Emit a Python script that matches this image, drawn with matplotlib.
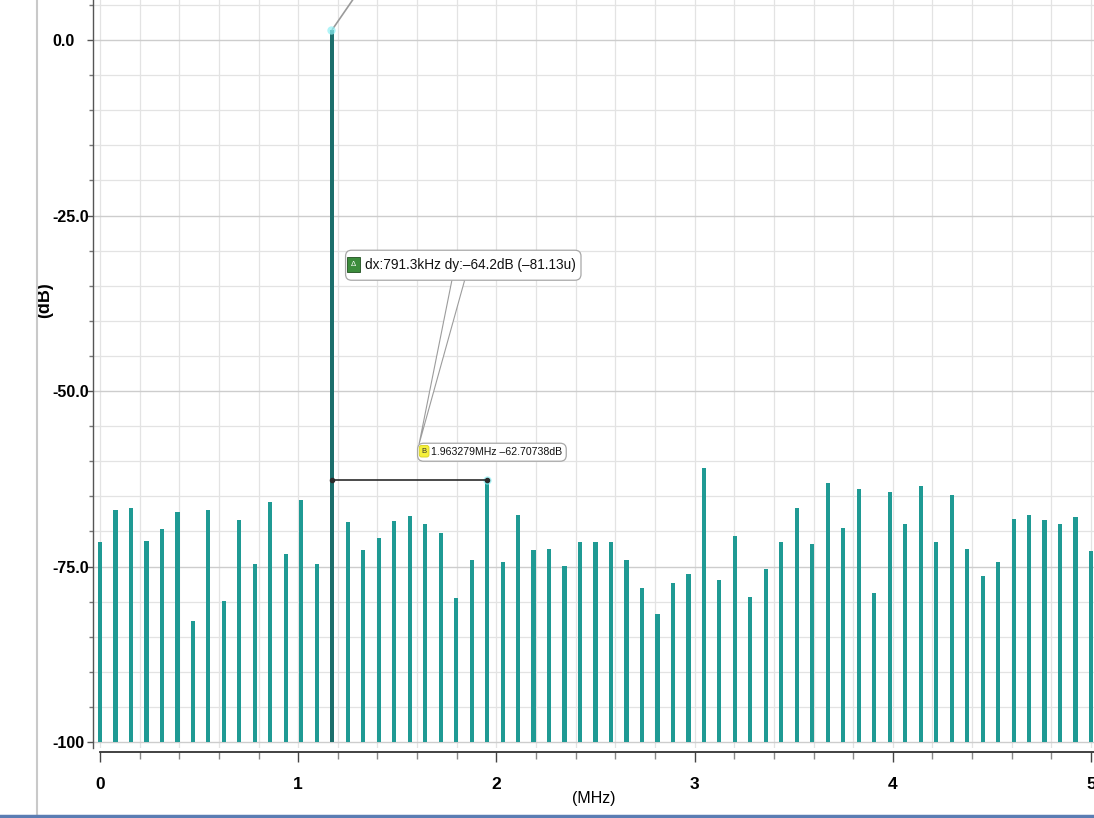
import numpy as np
import matplotlib
matplotlib.use("Agg")
import matplotlib.pyplot as plt
from matplotlib.ticker import MultipleLocator
from matplotlib.lines import Line2D
from matplotlib.patches import FancyBboxPatch
from matplotlib.transforms import Bbox, IdentityTransform

# spectrum levels per FFT bin (dB), 0..5 MHz
bin_step_mhz = 0.078125
levels_db = [
    -71.5, -67.0, -66.7, -71.4, -69.7, -67.3, -82.8, -66.9, -79.9, -68.4,
    -74.6, -65.8, -73.2, -65.5, -74.6, 1.49, -68.7, -72.6, -71.0, -68.5,
    -67.8, -68.9, -70.2, -79.5, -74.0, -62.71, -74.3, -67.7, -72.6, -72.5,
    -74.9, -71.5, -71.5, -71.5, -74.0, -78.1, -81.7, -77.3, -76.0, -61.0,
    -76.9, -70.6, -79.3, -75.3, -71.5, -66.6, -71.8, -63.1, -69.5, -64.0,
    -78.7, -64.4, -68.9, -63.6, -71.5, -64.8, -72.5, -76.4, -74.3, -68.2,
    -67.7, -68.4, -68.95, -68.0, -72.8,
]
peak_bin = 15

# markers A (fundamental) and B
a_freq, a_db = 1.171979, 1.49
b_freq, b_db = 1.963279, -62.70738

y_ticks = [0, -25, -50, -75, -100]
y_ticklabels = ["0.0", "-25.0", "-50.0", "-75.0", "-100"]
x_ticks = [0, 1, 2, 3, 4, 5]
x_ticklabels = ["0", "1", "2", "3", "4", "5"]
floor_db = -100

freqs = bin_step_mhz * np.arange(len(levels_db))
levels = np.array(levels_db)

plt.rcParams["font.family"] = ["Liberation Sans", "DejaVu Sans"]
plt.rcParams["font.weight"] = "bold"
teal = "#1f9a94"
teal_dark = "#1b6f6c"

fig = plt.figure(figsize=(10.94, 8.18), dpi=100)
W, H = 1094, 818
ax = fig.add_axes([93 / W, (H - 748) / H, (W - 93) / W, 748 / H])

# axes ranges and ticks
ax.set_xlim(-0.0353, 5.015)
ax.set_ylim(-100.85, 5.70)

ax.set_yticks(y_ticks, labels=y_ticklabels, ha="left")
ax.yaxis.set_minor_locator(MultipleLocator(5))
ax.set_xticks(x_ticks, labels=x_ticklabels)
ax.xaxis.set_minor_locator(MultipleLocator(0.2))

ax.tick_params(axis="y", which="major", length=4, width=1, color="#555555",
               pad=25, labelsize=11.5)
ax.tick_params(axis="y", which="minor", length=3, width=1, color="#777777")
ax.tick_params(axis="x", which="major", length=7, width=1, color="#444444",
               pad=11, labelsize=12.5)
ax.tick_params(axis="x", which="minor", length=5, width=1, color="#888888")

ax.grid(which="major", axis="y", color="#cdcdcd", lw=1.0, zorder=0)
ax.grid(which="minor", axis="y", color="#e3e3e3", lw=0.9, zorder=0)
ax.grid(which="both", axis="x", color="#e3e3e3", lw=0.9, zorder=0)
ax.set_axisbelow(True)

for s in ["top", "right"]:
    ax.spines[s].set_visible(False)
ax.spines["left"].set_color("#555555")
ax.spines["left"].set_linewidth(1.0)
ax.spines["bottom"].set_color("#333333")
ax.spines["bottom"].set_linewidth(1.3)
ax.spines["bottom"].set_position(("outward", 3))
ax.spines["bottom"].set_bounds(0, 5.015)

ax.set_xlabel("(MHz)", fontsize=11.5, fontweight="normal", labelpad=-1)
ax.set_ylabel("(dB)", fontsize=13, fontweight="bold")
ax.yaxis.set_label_coords(-0.040, 0.599)

# spectrum bars
colors = [teal] * len(levels)
colors[peak_bin] = teal_dark
ax.bar(freqs, levels - floor_db, bottom=floor_db, width=0.021,
       color=colors, zorder=3)

# marker highlights
ax.plot([a_freq - 0.005, b_freq - 0.01], [a_db, b_db], "o", color="#8ff0f5",
        ms=6, alpha=0.7, mec="none", zorder=4)

# delta line between A and B
ax.plot([a_freq, b_freq - 0.01], [b_db, b_db], color="#2b2b2b", lw=1.2,
        marker="o", ms=3, zorder=5)

# callout leader for marker A (label sits above the plot)
ax.annotate("", xy=(a_freq, a_db), xytext=(22, 32), textcoords="offset pixels",
            arrowprops=dict(arrowstyle="-", color="#9a9a9a", lw=1.2,
                            shrinkA=0, shrinkB=0), annotation_clip=False)


def marker_label(badge, badge_style, text, badge_off, text_off, size):
    """Badge + text placed at pixel offsets from marker B."""
    bdg = ax.annotate(badge, xy=(b_freq, b_db), xytext=badge_off,
                      textcoords="offset pixels", ha="center", va="center",
                      fontsize=5.5, fontweight="normal", zorder=9,
                      color=badge_style.pop("tc"), bbox=badge_style)
    txt = ax.annotate(text, xy=(b_freq, b_db), xytext=text_off,
                      textcoords="offset pixels", ha="left", va="center",
                      fontsize=size, fontweight="normal", zorder=9,
                      color="#111111")
    return bdg, txt


b_text = f"{b_freq:.6f}MHz {b_db:.5f}dB".replace("-", "\u2013")
b_badge, b_txt = marker_label(
    "B", dict(boxstyle="round,pad=0.3", fc="#f5f03c", ec="#d8d020", lw=0.6,
              tc="#333333"),
    b_text, (-65, 29), (-58, 28), 7.6)

dx_khz = (b_freq - a_freq) * 1000
dy_db = b_db - a_db
delta_text = f"dx:{dx_khz:.1f}kHz dy:{dy_db:.1f}dB (-81.13u)".replace("-", "\u2013")
d_badge, d_txt = marker_label(
    "\u0394", dict(boxstyle="square,pad=0.5", fc="#3c8c3c", ec="#1f4f1f",
                   lw=0.6, tc="white"),
    delta_text, (-136, 216), (-124, 215), 9.8)

# window frame lines around the plot
fig.add_artist(Line2D([37 / W, 37 / W], [3 / H, 1], color="#c9c9c9", lw=1.5))
fig.add_artist(Line2D([0, 1], [2 / H, 2 / H], color="#5b7db3", lw=2.5))

# rounded frames around each badge + text pair (needs final layout)
fig.canvas.draw()
renderer = fig.canvas.get_renderer()


def frame(parts, padx, pady):
    bb = Bbox.union([p.get_window_extent(renderer) for p in parts])
    patch = FancyBboxPatch((bb.x0 - padx, bb.y0 - pady),
                           bb.width + 2 * padx, bb.height + 2 * pady,
                           boxstyle="round,pad=0,rounding_size=6",
                           fc="white", ec="#a8a8a8", lw=0.9,
                           transform=IdentityTransform(), zorder=8)
    ax.add_artist(patch)
    return patch


b_frame = frame([b_badge, b_txt], 4, 4)
d_frame = frame([d_badge, d_txt], 5, 8)

# wedge callout from the delta frame down to the B frame
ax.annotate("", xy=(0.01, 0.95), xycoords=b_frame,
            xytext=(0.48, 0.05), textcoords=d_frame,
            arrowprops=dict(arrowstyle="wedge,tail_width=0.9", fc="white",
                            ec="#9c9c9c", lw=0.8, shrinkA=0, shrinkB=0),
            zorder=7)

fig.savefig("out.png", dpi=100)
